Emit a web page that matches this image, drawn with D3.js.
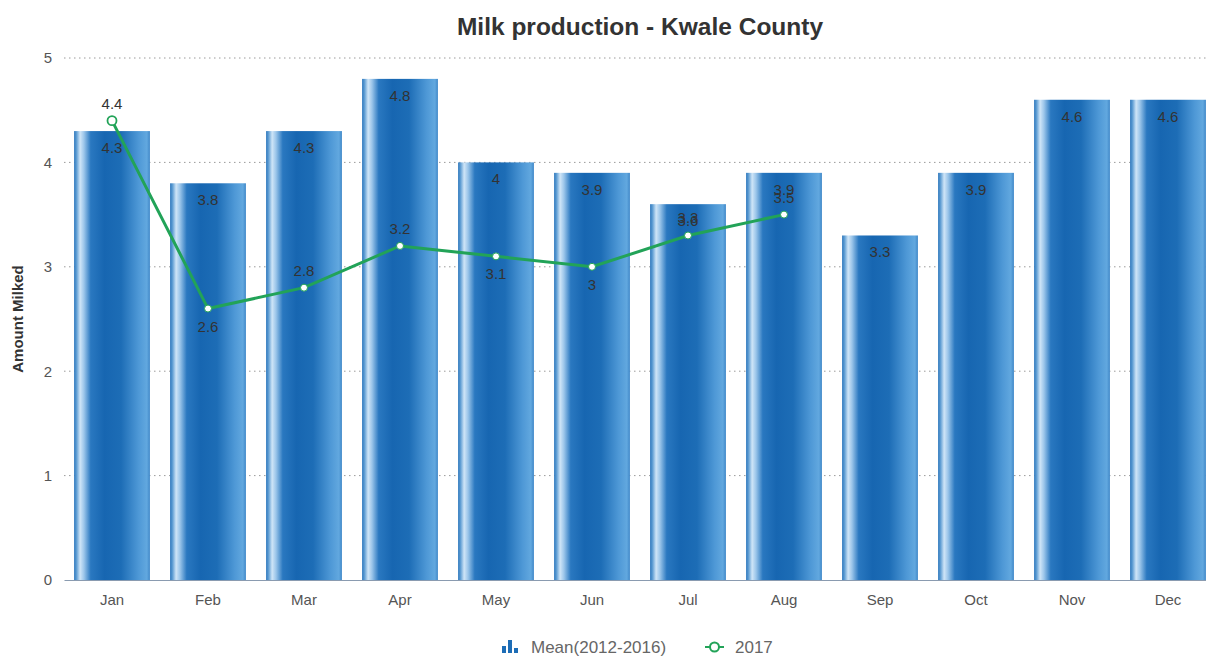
<!DOCTYPE html>
<html>
<head>
<meta charset="utf-8">
<script src="https://cdn.jsdelivr.net/npm/d3@7/dist/d3.min.js"></script>
<style>
  html, body { margin: 0; padding: 0; background: #fff; }
  svg { display: block; font-family: "Liberation Sans", Arial, Helvetica, sans-serif; }
</style>
</head>
<body>
<svg id="chart" width="1206" height="656"></svg>
<script>
// Monthly milk production, Kwale County
const months = ["Jan", "Feb", "Mar", "Apr", "May", "Jun", "Jul", "Aug", "Sep", "Oct", "Nov", "Dec"];
const meanValues = [4.3, 3.8, 4.3, 4.8, 4.0, 3.9, 3.6, 3.9, 3.3, 3.9, 4.6, 4.6];
const year2017 = [4.4, 2.6, 2.8, 3.2, 3.1, 3.0, 3.3, 3.5];
const yTicks = [0, 1, 2, 3, 4, 5];
const seriesNames = ["Mean(2012-2016)", "2017"];

const W = 1206, H = 656;
const margin = { top: 58, right: -10, bottom: 76, left: 64 };
const svg = d3.select("#chart");

const x = d3.scaleBand()
  .domain(months)
  .range([margin.left, W - margin.right])
  .paddingInner(0.21)
  .paddingOuter(0.105);

const y = d3.scaleLinear()
  .domain([0, 5])
  .range([H - margin.bottom, margin.top]);

// Cylinder-style shading for the bars
const defs = svg.append("defs");
const grad = defs.append("linearGradient").attr("id", "barGrad")
  .attr("x1", "0%").attr("x2", "100%").attr("y1", "0%").attr("y2", "0%");
[
  [0, "#2f78bd"], [3, "#5b9bd2"], [8, "#cfe5f7"], [13, "#9cc6ea"],
  [22, "#2a78c0"], [40, "#1766b1"], [62, "#1d6db6"], [85, "#4e98d6"],
  [96, "#62a8df"], [100, "#3f87c8"]
].forEach(([o, c]) => grad.append("stop").attr("offset", o + "%").attr("stop-color", c));

// Grid lines
svg.append("g").selectAll("line")
  .data(yTicks.filter(t => t > 0))
  .join("line")
  .attr("x1", margin.left).attr("x2", W)
  .attr("y1", d => y(d)).attr("y2", d => y(d))
  .attr("stroke", "#9a9a9a").attr("stroke-width", 1)
  .attr("stroke-dasharray", "1.5,3.5");

// Y axis
const yAxis = svg.append("g")
  .attr("transform", `translate(${margin.left},0)`)
  .call(d3.axisLeft(y).tickValues(yTicks).tickFormat(d3.format("d")).tickSize(0).tickPadding(12));
yAxis.select(".domain").remove();
yAxis.selectAll("text").attr("font-size", 15).attr("fill", "#555");

svg.append("text")
  .attr("transform", `translate(23,${(margin.top + H - margin.bottom) / 2}) rotate(-90)`)
  .attr("text-anchor", "middle")
  .attr("font-size", 15).attr("font-weight", "bold").attr("fill", "#333")
  .text("Amount Milked");

// Bars
svg.append("g").selectAll("rect")
  .data(meanValues)
  .join("rect")
  .attr("x", (d, i) => x(months[i]))
  .attr("y", d => y(d))
  .attr("width", x.bandwidth())
  .attr("height", d => y(0) - y(d))
  .attr("fill", "url(#barGrad)");

// Bar value labels
svg.append("g").selectAll("text")
  .data(meanValues)
  .join("text")
  .attr("x", (d, i) => x(months[i]) + x.bandwidth() / 2)
  .attr("y", d => y(d) + 22)
  .attr("text-anchor", "middle")
  .attr("font-size", 15).attr("fill", "#333")
  .text(d => d3.format("~g")(d));

// X axis
const xAxis = svg.append("g")
  .attr("transform", `translate(0,${y(0)})`)
  .call(d3.axisBottom(x).tickSize(0).tickPadding(14));
xAxis.select(".domain").attr("stroke", "#8a9bb0").attr("stroke-width", 1.2);
xAxis.selectAll("text").attr("font-size", 15).attr("fill", "#555");

// 2017 line
const cx = i => x(months[i]) + x.bandwidth() / 2;
const line = d3.line().x((d, i) => cx(i)).y(d => y(d));
svg.append("path")
  .datum(year2017)
  .attr("d", line)
  .attr("fill", "none")
  .attr("stroke", "#22a358").attr("stroke-width", 3);

svg.append("g").selectAll("circle")
  .data(year2017)
  .join("circle")
  .attr("cx", (d, i) => cx(i))
  .attr("cy", d => y(d))
  .attr("r", (d, i) => i === 0 ? 4.5 : 3.5)
  .attr("fill", "#fff")
  .attr("stroke", "#22a358")
  .attr("stroke-width", (d, i) => i === 0 ? 1.8 : 1);

// Labels sit above rising points and below falling ones
svg.append("g").selectAll("text")
  .data(year2017)
  .join("text")
  .attr("x", (d, i) => cx(i))
  .attr("y", (d, i) => (i === 0 || d >= year2017[i - 1]) ? y(d) - 12 : y(d) + 23)
  .attr("text-anchor", "middle")
  .attr("font-size", 15).attr("fill", "#333")
  .text(d => d3.format("~g")(d));

// Title
svg.append("text")
  .attr("x", 640).attr("y", 35)
  .attr("text-anchor", "middle")
  .attr("font-size", 24.5).attr("font-weight", "bold").attr("fill", "#333")
  .text("Milk production - Kwale County");

// Legend
const lg = svg.append("g").attr("transform", "translate(502,653)");
const barIcon = lg.append("g").attr("fill", "#1d6db6");
[[0, 7], [6, 13], [12, 5]].forEach(([dx, h]) =>
  barIcon.append("rect").attr("x", dx).attr("y", -h).attr("width", 4).attr("height", h));
lg.append("text").attr("x", 29).attr("y", 0)
  .attr("font-size", 17).attr("fill", "#666").text(seriesNames[0]);
lg.append("line").attr("x1", 203).attr("x2", 222).attr("y1", -6).attr("y2", -6)
  .attr("stroke", "#22a358").attr("stroke-width", 2);
lg.append("circle").attr("cx", 212.5).attr("cy", -6).attr("r", 4.5)
  .attr("fill", "#fff").attr("stroke", "#22a358").attr("stroke-width", 2);
lg.append("text").attr("x", 233).attr("y", 0)
  .attr("font-size", 17).attr("fill", "#666").text(seriesNames[1]);
</script>
</body>
</html>
